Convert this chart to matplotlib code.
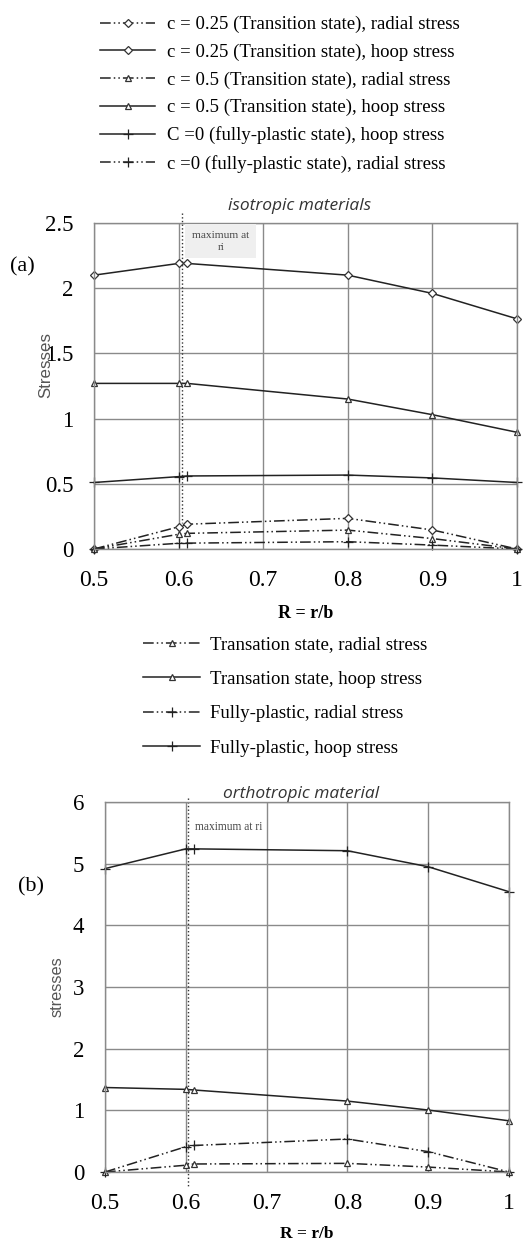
#!/usr/bin/env python3
# coding: utf-8
import matplotlib
matplotlib.use("Agg")
import matplotlib.pyplot as plt

# radius ratio R = r/b (the second point sits just right of 0.6)
R = [0.5, 0.6, 0.61, 0.8, 0.9, 1.0]

# (a) isotropic materials
iso_c025_radial = [0.0, 0.17, 0.19, 0.235, 0.146, 0.0]
iso_c025_hoop = [2.10, 2.19, 2.19, 2.10, 1.96, 1.765]
iso_c05_radial = [0.0, 0.113, 0.12, 0.145, 0.08, 0.0]
iso_c05_hoop = [1.27, 1.27, 1.27, 1.15, 1.03, 0.895]
iso_c0_hoop = [0.51, 0.555, 0.56, 0.567, 0.545, 0.51]
iso_c0_radial = [0.0, 0.044, 0.045, 0.056, 0.03, 0.0]

# (b) orthotropic material
ort_trans_radial = [0.0, 0.11, 0.13, 0.14, 0.08, 0.0]
ort_trans_hoop = [1.37, 1.34, 1.33, 1.15, 1.005, 0.83]
ort_fp_radial = [0.0, 0.41, 0.43, 0.535, 0.33, 0.0]
ort_fp_hoop = [4.92, 5.24, 5.24, 5.21, 4.95, 4.545]

x_ticks = [0.5, 0.6, 0.7, 0.8, 0.9, 1.0]
x_ticklabels = ["0.5", "0.6", "0.7", "0.8", "0.9", "1"]
a_yticks = [0, 0.5, 1, 1.5, 2, 2.5]
a_yticklabels = ["0", "0.5", "1", "1.5", "2", "2.5"]
b_yticks = [0, 1, 2, 3, 4, 5, 6]

serif = ["Liberation Serif", "DejaVu Serif"]
dash = (0, (7, 2, 1, 2, 1, 2))
gridc = "#8a8a8a"

fig = plt.figure(figsize=(5.30, 12.42), dpi=100)


def style_axes(ax, yticks, ylabels, ylim):
    ax.set_xlim(0.5, 1.0)
    ax.set_ylim(*ylim)
    ax.set_xticks(x_ticks)
    ax.set_xticklabels(x_ticklabels, family=serif, fontsize=17)
    ax.set_yticks(yticks)
    ax.set_yticklabels(ylabels, family=serif, fontsize=16.5)
    ax.tick_params(length=0, pad=15)
    ax.grid(True, color=gridc, lw=1.0)
    ax.set_axisbelow(True)
    for s in ax.spines.values():
        s.set_color(gridc)
        s.set_linewidth(1.0)


def line(ax, y, marker, ls, label, ms=5):
    kw = dict(color="#222222", lw=1.1, marker=marker, ms=ms, mew=0.9,
              clip_on=False, label=label)
    if marker in ("D", "^"):
        kw["mfc"] = "white"
        kw["mec"] = "#333333"
    return ax.plot(R, y, linestyle=ls, **kw)[0]


leg_font = dict(family=serif, size=13.5)

# ---------- panel (a) ----------
ax1 = fig.add_axes([94 / 530, 1 - 549 / 1242, 423 / 530, 326 / 1242])
style_axes(ax1, a_yticks, a_yticklabels, (0, 2.5))
h = []
h.append(line(ax1, iso_c025_radial, "D", dash, "c = 0.25 (Transition state), radial stress", 4))
h.append(line(ax1, iso_c025_hoop, "D", "-", "c = 0.25 (Transition state), hoop stress", 4))
h.append(line(ax1, iso_c05_radial, "^", dash, "c = 0.5 (Transition state), radial stress"))
h.append(line(ax1, iso_c05_hoop, "^", "-", "c = 0.5 (Transition state), hoop stress"))
h.append(line(ax1, iso_c0_hoop, "+", "-", "C =0 (fully-plastic state), hoop stress", 7))
h.append(line(ax1, iso_c0_radial, "+", dash, "c =0 (fully-plastic state), radial stress", 7))
ax1.plot([0.604, 0.604], [2.58, 0.2], color="#333333", ls=":", lw=1.0, clip_on=False)
ax1.text(0.650, 2.36, "maximum at\nri", family=serif, fontsize=8.2, color="#444444",
         ha="center", va="center", linespacing=1.4,
         bbox=dict(boxstyle="square,pad=0.6", fc="#efefef", ec="none"))
ax1.set_title("isotropic materials", family="Open Sans", style="italic", fontsize=12.5,
              color="#333333", pad=9, x=0.485)
ax1.set_xlabel("R = r/b", family=serif, fontweight="bold", fontsize=13, labelpad=10)
fig.text(46 / 530, 1 - 365 / 1242, "Stresses", rotation=90, ha="center", va="center",
         family="Liberation Sans", fontsize=12.2, color="#555555")
fig.text(10 / 530, 1 - 267 / 1242, "(a)", family=serif, fontsize=16, va="center")
fig.legend(handles=h, loc="upper left", bbox_to_anchor=(100 / 530, 1 - 16 / 1242),
           frameon=False, prop=leg_font, handlelength=2.95,
           handletextpad=0.62, labelspacing=0.55, borderpad=0, borderaxespad=0)

# ---------- panel (b) ----------
ax2 = fig.add_axes([105 / 530, 1 - 1172 / 1242, 404 / 530, 370 / 1242])
style_axes(ax2, b_yticks, [str(v) for v in b_yticks], (0, 6))
hb = []
hb.append(line(ax2, ort_trans_radial, "^", dash, "Transation state, radial stress"))
hb.append(line(ax2, ort_trans_hoop, "^", "-", "Transation state, hoop stress"))
hb.append(line(ax2, ort_fp_radial, "+", dash, "Fully-plastic, radial stress", 7))
hb.append(line(ax2, ort_fp_hoop, "+", "-", "Fully-plastic, hoop stress", 7))
ax2.plot([0.6027, 0.6027], [6.06, -0.24], color="#333333", ls=":", lw=1.0, clip_on=False)
ax2.text(0.611, 5.60, "maximum at ri", family=serif, fontsize=8.3, color="#444444",
         ha="left", va="center")
ax2.set_title("orthotropic material", family="Open Sans", style="italic", fontsize=12.5,
              color="#333333", pad=2, x=0.486)
ax2.set_xlabel("R = r/b", family=serif, fontweight="bold", fontsize=12.5, labelpad=9)
fig.text(57 / 530, 1 - 987 / 1242, "stresses", rotation=90, ha="center", va="center",
         family="Liberation Sans", fontsize=11.8, color="#555555")
fig.text(18 / 530, 1 - 887 / 1242, "(b)", family=serif, fontsize=16, va="center")
fig.legend(handles=hb, loc="upper left", bbox_to_anchor=(143 / 530, 1 - 636 / 1242),
           frameon=False, prop=leg_font, handlelength=3.05,
           handletextpad=0.5, labelspacing=0.93, borderpad=0, borderaxespad=0)

plt.savefig("out.png", dpi=100)
